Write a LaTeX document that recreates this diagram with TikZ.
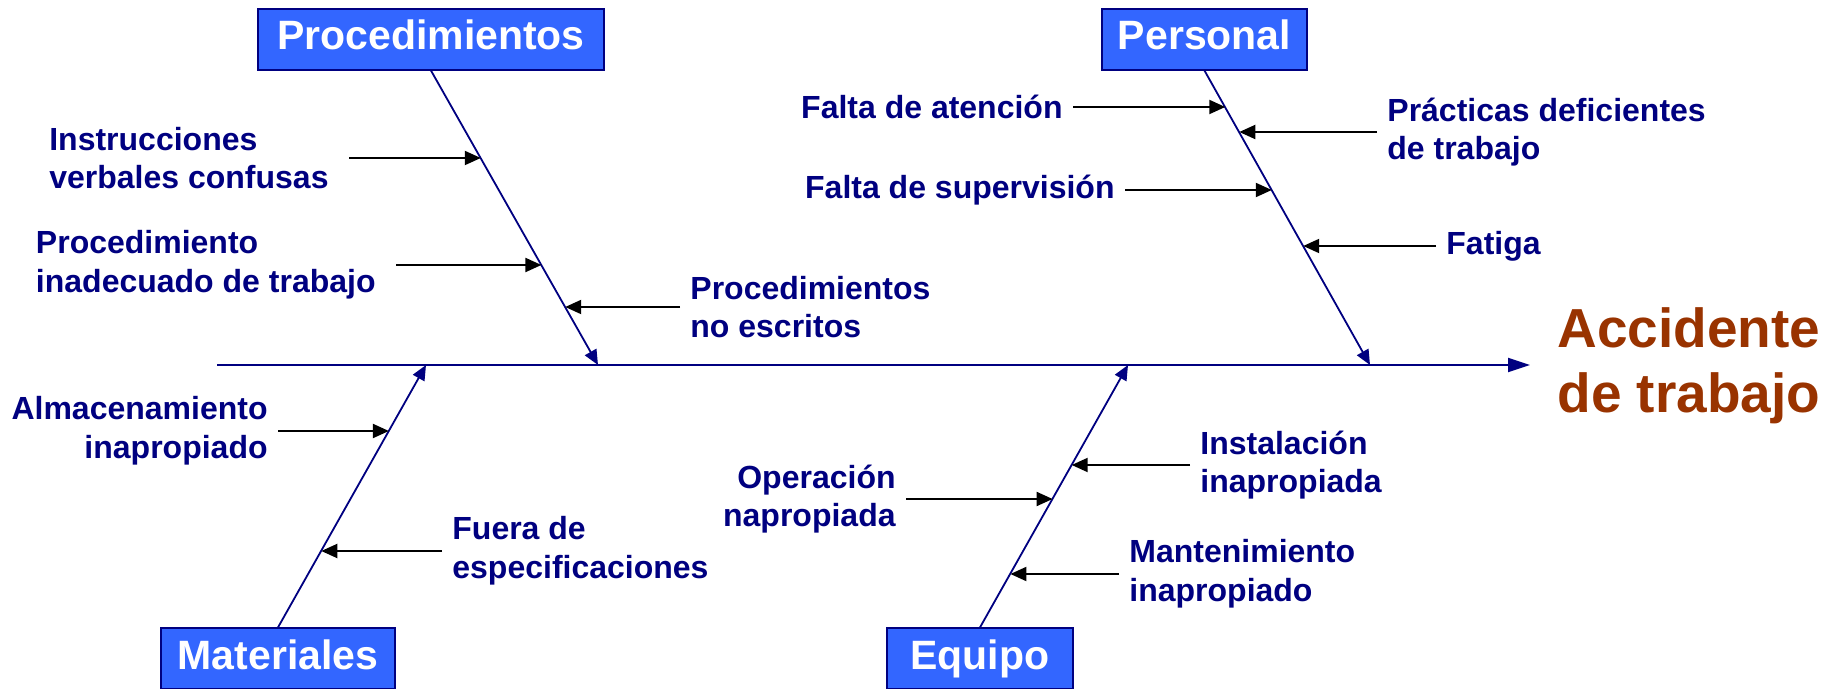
\documentclass[tikz,border=0pt]{standalone}
\usepackage{fontspec}
\setmainfont{Liberation Sans}
\usetikzlibrary{arrows.meta}
\definecolor{azulosc}{HTML}{000080}
\definecolor{azulcaja}{HTML}{3366FF}
\definecolor{rojizo}{HTML}{993300}

\begin{document}
\begin{tikzpicture}[x=0.5pt,y=-0.5pt,
        categoria/.style={draw=azulosc,line width=0.6pt,fill=azulcaja,text=white,
            font=\fontsize{20.5}{24}\selectfont\bfseries,minimum height=30.5pt,inner xsep=0pt,
            text height=15pt,text depth=4.5pt},
        causa/.style={text=azulosc,font=\fontsize{16}{19.4}\selectfont\bfseries,
            inner xsep=5pt,inner ysep=0pt},
        espina/.style={azulosc,line width=0.9pt,-{Triangle[length=7.5pt,width=6.5pt]}},
        flecha/.style={black,line width=1pt,-{Triangle[length=8pt,width=7pt]}}]
    \useasboundingbox (0,0) rectangle (1838,689);
    % espina central y efecto
    \coordinate (inicio) at (217,365);
    \coordinate (fin) at (1530,365);
    \draw[azulosc,line width=1pt,-{Triangle[length=11pt,width=7pt]}] (inicio) -- (fin);
    \node[text=rojizo,font=\fontsize{27.5}{32.25}\selectfont\bfseries,align=left,
        anchor=west,inner sep=0pt] (efecto) at (1557,366) {Accidente\\de trabajo};
    % categorias
    \node[categoria,minimum width=173pt] (proc) at (431,39.5) {Procedimientos};
    \node[categoria,minimum width=102.5pt] (pers) at (1204.5,39.5) {Personal};
    \node[categoria,minimum width=117pt] (mat) at (278,658.5) {Materiales};
    \node[categoria,minimum width=93pt] (equ) at (980,658.5) {Equipo};
    \coordinate (eproc) at (598,365);
    \coordinate (epers) at (1370,365);
    \coordinate (emat) at (426,365);
    \coordinate (eequ) at (1128,365);
    \draw[espina] (proc.south) -- (eproc);
    \draw[espina] (pers.south) -- (epers);
    \draw[espina] (mat.north) -- (emat);
    \draw[espina] (equ.north) -- (eequ);
    % causas: Procedimientos
    \coordinate (p1) at (480.8,158);
    \coordinate (p2) at (541.4,265);
    \coordinate (p3) at (565.2,307);
    \node[causa,align=left,anchor=east,inner xsep=10pt] (instr) at (349,158) {Instrucciones\\verbales confusas};
    \node[causa,align=left,anchor=east,inner xsep=10pt] (inad) at (396,265) {Procedimiento\\inadecuado de trabajo};
    \node[causa,align=left,anchor=west] (noesc) at (680,307) {Procedimientos\\no escritos};
    \draw[flecha] (instr.east) -- (p1);
    \draw[flecha] (inad.east) -- (p2);
    \draw[flecha] (noesc.west) -- (p3);
    % causas: Personal
    \coordinate (q1) at (1225.3,107);
    \coordinate (q2) at (1239.3,132);
    \coordinate (q3) at (1271.8,190);
    \coordinate (q4) at (1303.2,246);
    \node[causa,anchor=east] (atenc) at (1073,107) {Falta de atención};
    \node[causa,align=left,anchor=west] (pract) at (1377,132) {Prácticas deficientes\\de trabajo};
    \node[causa,anchor=east] (superv) at (1125,190) {Falta de supervisión};
    \node[causa,anchor=west] (fatiga) at (1436,246) {Fatiga};
    \draw[flecha] (atenc.east) -- (q1);
    \draw[flecha] (pract.west) -- (q2);
    \draw[flecha] (superv.east) -- (q3);
    \draw[flecha] (fatiga.west) -- (q4);
    % causas: Materiales
    \coordinate (m1) at (388.9,431);
    \coordinate (m2) at (321.3,551);
    \node[causa,align=right,anchor=east] (almac) at (278,431) {Almacenamiento\\inapropiado};
    \node[causa,align=left,anchor=west] (fuera) at (442,551) {Fuera de\\especificaciones};
    \draw[flecha] (almac.east) -- (m1);
    \draw[flecha] (fuera.west) -- (m2);
    % causas: Equipo
    \coordinate (e1) at (1071.7,465);
    \coordinate (e2) at (1052.6,499);
    \coordinate (e3) at (1010.4,574);
    \node[causa,align=left,anchor=west] (instal) at (1190,465) {Instalación\\inapropiada};
    \node[causa,align=right,anchor=east] (operac) at (906,499) {Operación\\napropiada};
    \node[causa,align=left,anchor=west] (mante) at (1119,574) {Mantenimiento\\inapropiado};
    \draw[flecha] (instal.west) -- (e1);
    \draw[flecha] (operac.east) -- (e2);
    \draw[flecha] (mante.west) -- (e3);
\end{tikzpicture}
\end{document}
